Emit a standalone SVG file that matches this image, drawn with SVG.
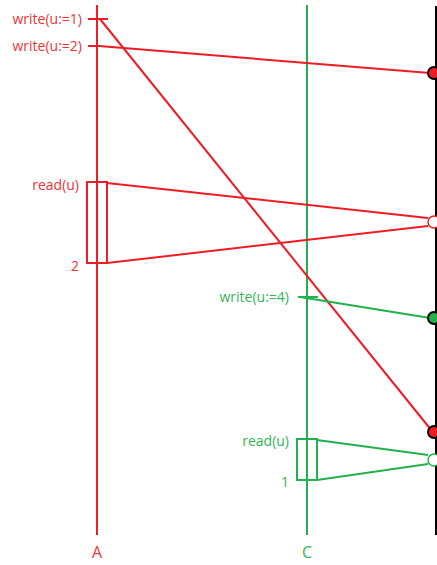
<svg xmlns="http://www.w3.org/2000/svg" width="437" height="565" viewBox="0 0 437 565">
<style>
.r{stroke:#ee1c24;stroke-width:2;fill:none}
.g{stroke:#22b14c;stroke-width:2;fill:none}
.tr{fill:#ee3338;font-family:"Open Sans","Noto Sans",sans-serif;font-size:14px}
.tg{fill:#33b559;font-family:"Open Sans","Noto Sans",sans-serif;font-size:14px}
.big{font-size:16px}
.dot{stroke:#000;stroke-width:2}
</style>
<rect width="437" height="565" fill="#fff"/>
<g id="lifelineA">
<line class="r" x1="97" y1="5" x2="97" y2="535"/>
<text class="tr big" x="97" y="558" text-anchor="middle">A</text>
</g>
<g id="lifelineC">
<line class="g" x1="307" y1="5" x2="307" y2="535"/>
<text class="tg big" x="307" y="558" text-anchor="middle">C</text>
</g>
<g id="lifelineX">
<line x1="436" y1="6" x2="436" y2="535" stroke="#000" stroke-width="2"/>
</g>
<g id="connectors">
<line class="r" x1="100" y1="19" x2="432" y2="431"/>
<line class="r" x1="99" y1="46" x2="430" y2="73"/>
<line class="r" x1="107" y1="183" x2="428" y2="218"/>
<line class="r" x1="107" y1="263" x2="428" y2="226"/>
<line class="g" x1="300" y1="297" x2="430" y2="318"/>
<line class="g" x1="317" y1="440" x2="428" y2="455"/>
<line class="g" x1="317" y1="480" x2="428" y2="464"/>
</g>
<g id="w1">
<line class="r" x1="88" y1="19" x2="108" y2="19"/>
<text class="tr" x="82" y="24" text-anchor="end">write(u:=1)</text>
</g>
<g id="w2">
<line class="r" x1="88" y1="46" x2="100" y2="46"/>
<text class="tr" x="82" y="51" text-anchor="end">write(u:=2)</text>
</g>
<g id="readA">
<rect class="r" x="87" y="182" width="20" height="81"/>
<text class="tr" x="79" y="190" text-anchor="end">read(u)</text>
<text class="tr" x="79" y="271" text-anchor="end">2</text>
</g>
<g id="w4">
<line class="g" x1="298" y1="297" x2="318" y2="297"/>
<text class="tg" x="289" y="302" text-anchor="end">write(u:=4)</text>
</g>
<g id="readC">
<rect class="g" x="297" y="439" width="20" height="41"/>
<text class="tg" x="289" y="446" text-anchor="end">read(u)</text>
<text class="tg" x="289" y="487" text-anchor="end">1</text>
</g>
<g id="dots">
<circle cx="434" cy="73" r="6" fill="#ee1c24" class="dot"/>
<circle cx="434" cy="222" r="6" fill="#fff" stroke="#ee1c24" stroke-width="1.5"/>
<circle cx="434" cy="318" r="6" fill="#22b14c" class="dot"/>
<circle cx="434" cy="432" r="6" fill="#ee1c24" class="dot"/>
<circle cx="434" cy="460" r="6" fill="#fff" stroke="#22b14c" stroke-width="1.5"/>
</g>
</svg>
